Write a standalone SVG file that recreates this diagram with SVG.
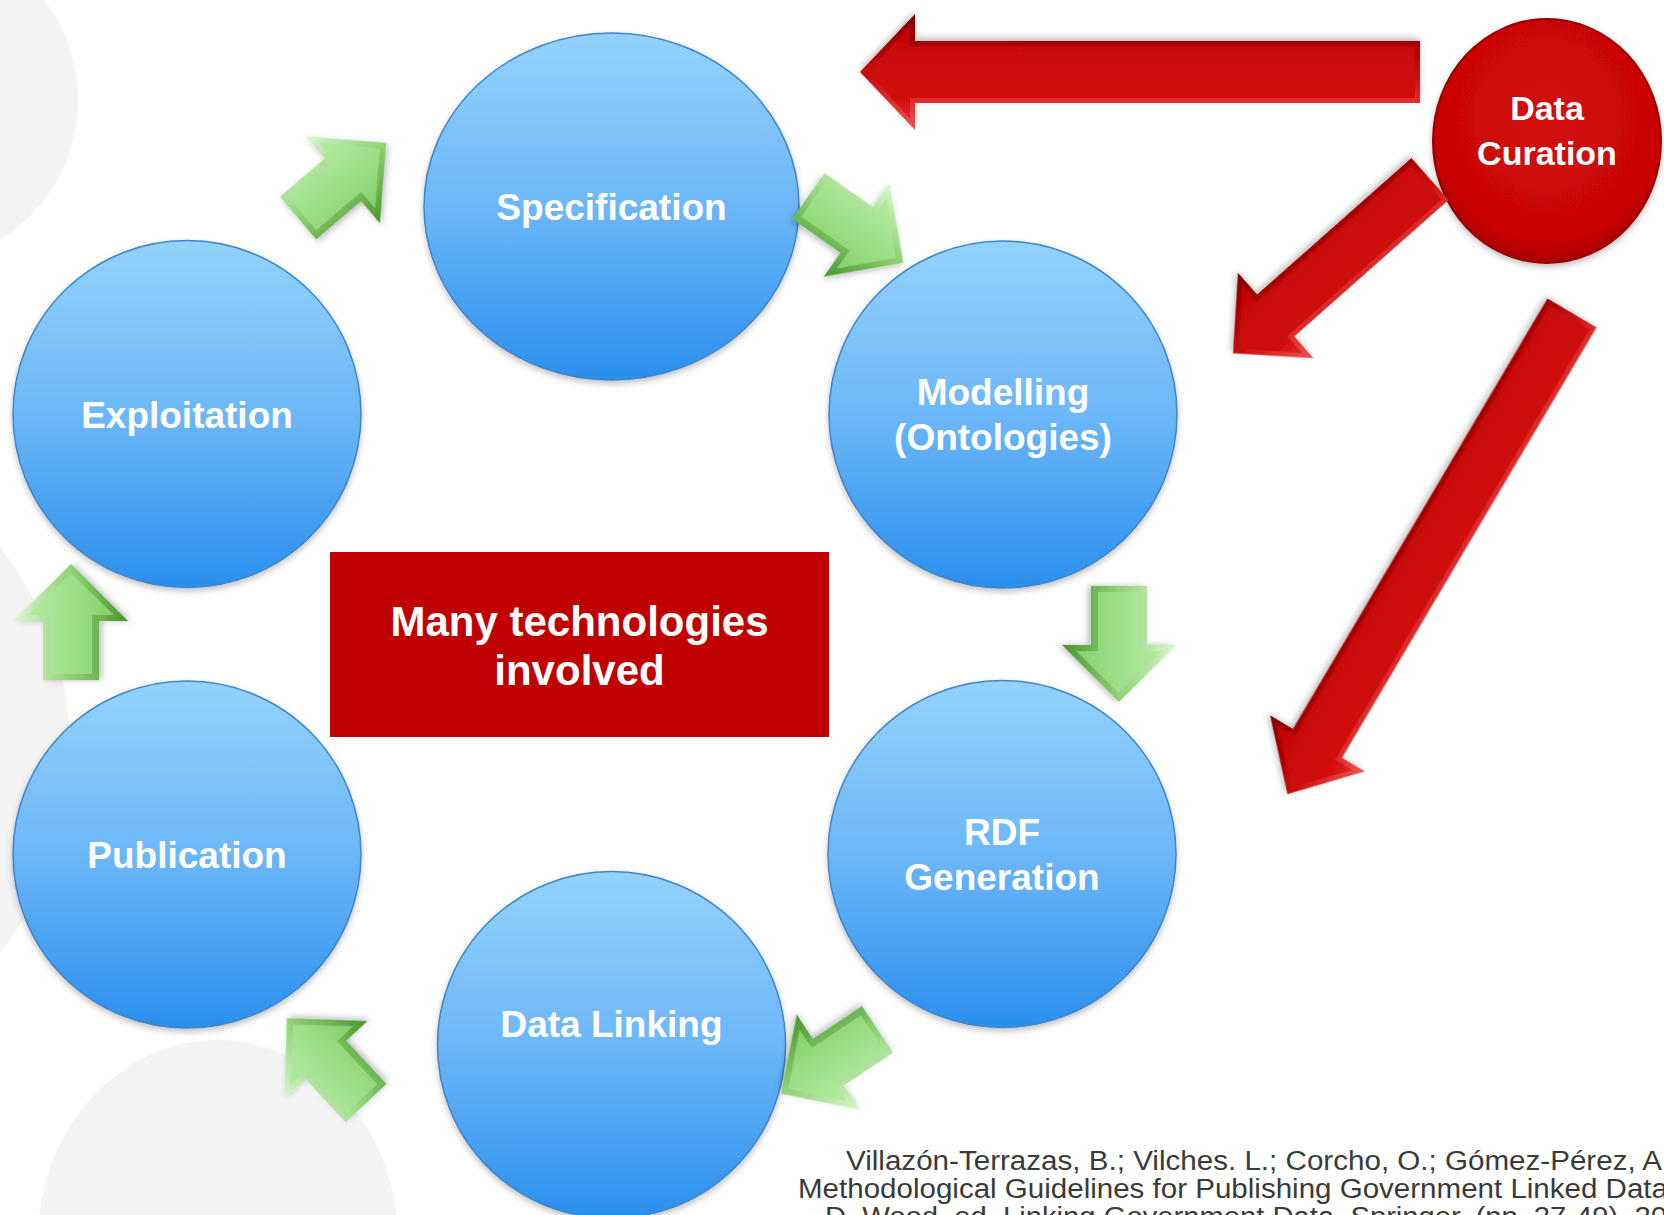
<svg xmlns="http://www.w3.org/2000/svg" xmlns:xlink="http://www.w3.org/1999/xlink" width="1664" height="1215" viewBox="0 0 1664 1215">
<defs>
  <style>
    .bg { fill: #f4f4f4; }
    .blue { fill: url(#blueG); stroke: #3f85c8; stroke-width: 1.5; filter: url(#sh); }
    .lbl { font-family: "Liberation Sans", Arial, sans-serif; font-weight: bold; fill: #ffffff; text-anchor: middle; }
    .nodeTxt { font-size: 37px; }
    .cite { font-family: "Liberation Sans Narrow", "Liberation Sans", Arial, sans-serif; font-size: 27px; fill: #3a3a3a; }
    .gOut { fill: url(#greenEdge); }
    .gIn { fill: url(#greenG); }
    .rOut { fill: url(#redEdge); }
    .rIn { fill: url(#redG); }
  </style>
  <linearGradient id="blueG" x1="0" y1="0" x2="0" y2="1">
    <stop offset="0" stop-color="#93d3fc"/>
    <stop offset="0.5" stop-color="#6cb7f8"/>
    <stop offset="1" stop-color="#2a8fee"/>
  </linearGradient>
  <linearGradient id="greenEdge" x1="0" y1="0" x2="0" y2="1">
    <stop offset="0" stop-color="#d8f8cc"/>
    <stop offset="0.5" stop-color="#8fd276"/>
    <stop offset="1" stop-color="#48952c"/>
  </linearGradient>
  <linearGradient id="greenG" x1="0" y1="0" x2="0" y2="1">
    <stop offset="0" stop-color="#b4eaa0"/>
    <stop offset="0.5" stop-color="#9fdf89"/>
    <stop offset="1" stop-color="#86cf6c"/>
  </linearGradient>
  <linearGradient id="redEdge" x1="0" y1="0" x2="0" y2="1">
    <stop offset="0" stop-color="#f25555"/>
    <stop offset="0.5" stop-color="#c80808"/>
    <stop offset="1" stop-color="#7e0000"/>
  </linearGradient>
  <linearGradient id="redG" x1="0" y1="0" x2="0" y2="1">
    <stop offset="0" stop-color="#e02828"/>
    <stop offset="0.25" stop-color="#cf0a0a"/>
    <stop offset="1" stop-color="#c40505"/>
  </linearGradient>
  <radialGradient id="curG" cx="0.5" cy="0.4" r="0.6">
    <stop offset="0" stop-color="#d40a0a"/>
    <stop offset="0.85" stop-color="#c80505"/>
    <stop offset="1" stop-color="#a80000"/>
  </radialGradient>
  <filter id="sh" x="-20%" y="-20%" width="140%" height="140%">
    <feDropShadow dx="0" dy="3" stdDeviation="3" flood-color="#000" flood-opacity="0.25"/>
  </filter>
  <g id="gArrow">
    <path class="gOut" d="M0,-28 H59 V-57 L116,0 L59,57 V28 H0 Z"/>
    <path class="gIn" d="M6,-21 H65 V-43 L107,0 L65,43 V21 H6 Z"/>
  </g>
</defs>

<rect width="1664" height="1215" fill="#ffffff"/>

<g id="background">
  <circle class="bg" cx="-87" cy="100" r="165"/>
  <circle class="bg" cx="-260" cy="750" r="330"/>
  <ellipse class="bg" cx="218" cy="1240" rx="180" ry="200"/>
</g>

<g id="node-specification">
  <ellipse class="blue" cx="611.5" cy="206.5" rx="187.5" ry="173.5"/>
  <text class="lbl nodeTxt" x="611.5" y="220">Specification</text>
</g>
<g id="node-modelling">
  <ellipse class="blue" cx="1003" cy="414.5" rx="174" ry="173.5"/>
  <text class="lbl nodeTxt" x="1003" y="405">Modelling</text>
  <text class="lbl nodeTxt" x="1003" y="450">(Ontologies)</text>
</g>
<g id="node-rdf">
  <ellipse class="blue" cx="1002" cy="854" rx="174" ry="173.5"/>
  <text class="lbl nodeTxt" x="1002" y="845">RDF</text>
  <text class="lbl nodeTxt" x="1002" y="890">Generation</text>
</g>
<g id="node-datalinking">
  <ellipse class="blue" cx="611.5" cy="1045" rx="174" ry="173.5"/>
  <text class="lbl nodeTxt" x="611.5" y="1037">Data Linking</text>
</g>
<g id="node-publication">
  <ellipse class="blue" cx="187" cy="854.5" rx="174" ry="173.5"/>
  <text class="lbl nodeTxt" x="187" y="868">Publication</text>
</g>
<g id="node-exploitation">
  <ellipse class="blue" cx="187" cy="414" rx="174" ry="173.5"/>
  <text class="lbl nodeTxt" x="187" y="428">Exploitation</text>
</g>

<g id="node-technologies">
  <rect x="330" y="552" width="499" height="185" fill="#c00000"/>
  <text class="lbl" font-size="42" x="579.5" y="636">Many technologies</text>
  <text class="lbl" font-size="42" x="579.5" y="685">involved</text>
</g>

<g id="node-datacuration">
  <ellipse cx="1547" cy="141" rx="114" ry="122" fill="url(#curG)" stroke="#980000" stroke-width="2" filter="url(#sh)"/>
  <text class="lbl" font-size="34" x="1547" y="120">Data</text>
  <text class="lbl" font-size="34" x="1547" y="165">Curation</text>
</g>

<g id="connectors">
  <!-- green cycle arrows -->
  <use xlink:href="#gArrow" href="#gArrow" filter="url(#sh)" transform="translate(298,218) rotate(-40.4)"/>
  <use xlink:href="#gArrow" href="#gArrow" filter="url(#sh)" transform="translate(808.5,196) rotate(35.2)"/>
  <use xlink:href="#gArrow" href="#gArrow" filter="url(#sh)" transform="translate(1119,586) rotate(90)"/>
  <use xlink:href="#gArrow" href="#gArrow" filter="url(#sh)" transform="translate(877.5,1029.5) rotate(146.4)"/>
  <use xlink:href="#gArrow" href="#gArrow" filter="url(#sh)" transform="translate(366,1103) rotate(-133)"/>
  <use xlink:href="#gArrow" href="#gArrow" filter="url(#sh)" transform="translate(71,680) rotate(-90)"/>

  <!-- red arrows from Data Curation -->
  <g transform="translate(1420,72) rotate(180)" filter="url(#sh)">
    <path class="rOut" d="M0,-31 H505 V-58 L560,0 L505,58 V31 H0 Z"/>
    <path class="rIn" d="M5,-26 H510 V-47 L552,0 L510,47 V26 H5 Z"/>
  </g>
  <g transform="translate(1430,179) rotate(138.5)" filter="url(#sh)">
    <path class="rOut" d="M0,-28 H206 V-57 L263,0 L206,57 V28 H0 Z"/>
    <path class="rIn" d="M5,-23 H211 V-46 L255,0 L211,46 V23 H5 Z"/>
  </g>
  <g transform="translate(1572,313) rotate(120.6)" filter="url(#sh)">
    <path class="rOut" d="M0,-28.5 H500 V-55 L559,0 L500,55 V28.5 H0 Z"/>
    <path class="rIn" d="M5,-23.5 H505 V-44 L551,0 L505,44 V23.5 H5 Z"/>
  </g>
</g>

<g id="citation">
  <text class="cite" x="846" y="1170" textLength="816" lengthAdjust="spacingAndGlyphs">Villazón-Terrazas, B.; Vilches. L.; Corcho, O.; Gómez-Pérez, A</text>
  <text class="cite" x="798" y="1198" textLength="870" lengthAdjust="spacingAndGlyphs">Methodological Guidelines for Publishing Government Linked Data</text>
  <text class="cite" x="825" y="1226" textLength="842" lengthAdjust="spacingAndGlyphs">D. Wood, ed. Linking Government Data, Springer, (pp. 27-49), 20</text>
</g>
</svg>
